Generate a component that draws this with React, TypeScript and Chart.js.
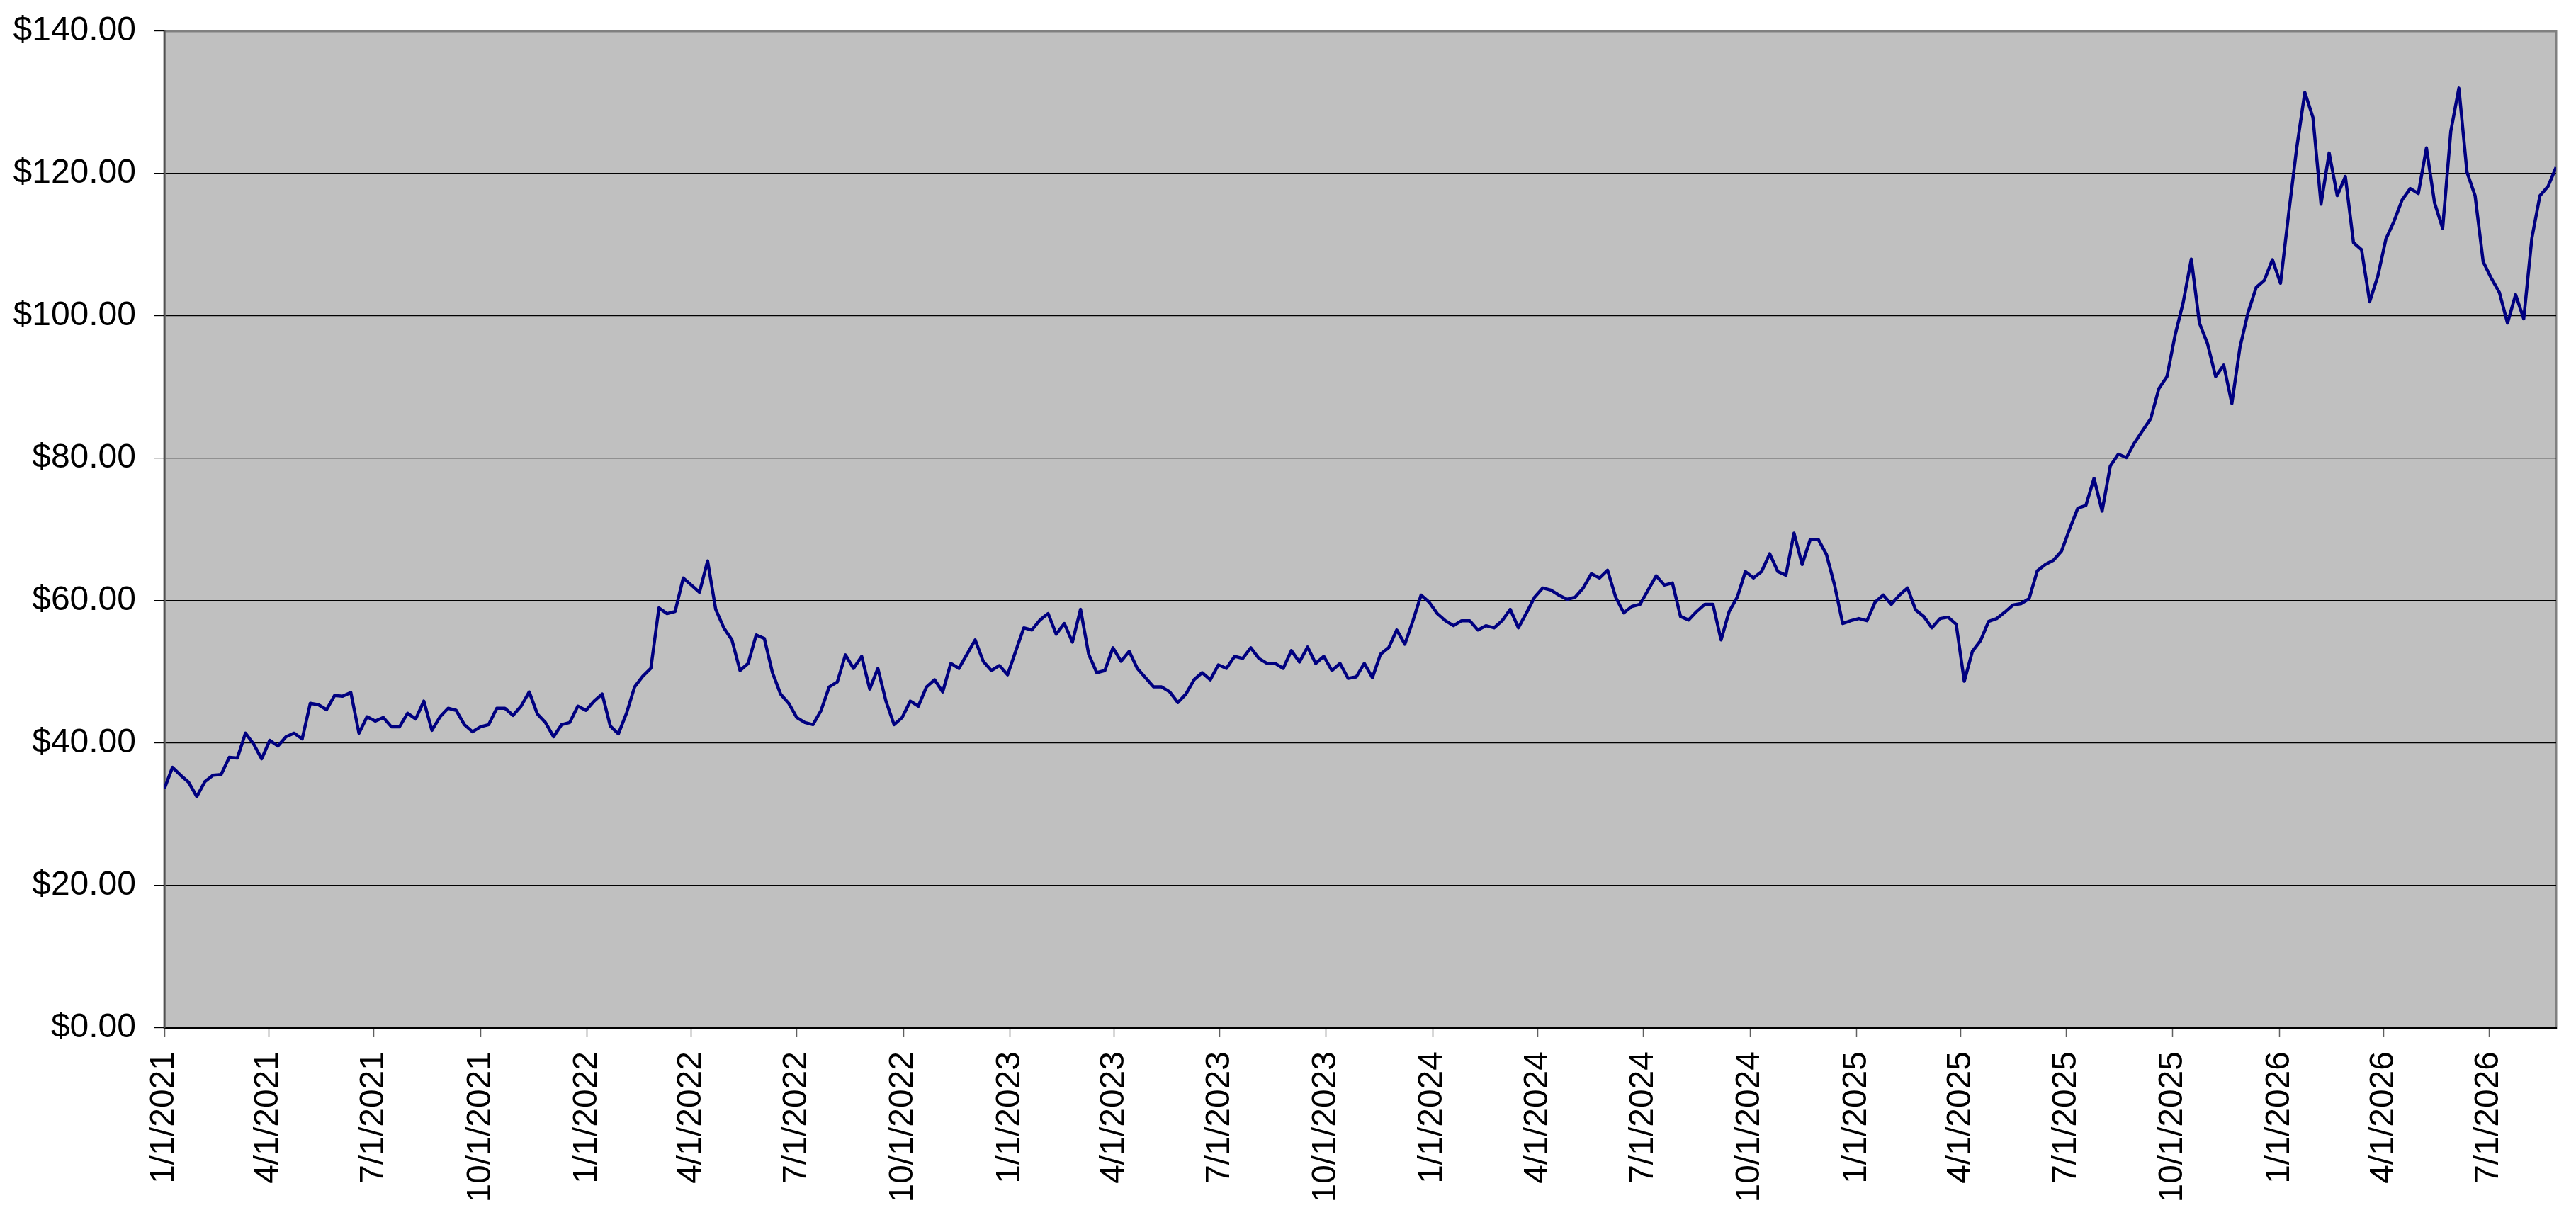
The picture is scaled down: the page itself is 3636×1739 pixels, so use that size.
import { useEffect, useRef } from "react";
import { Chart, registerables } from "chart.js";

Chart.register(...registerables);

// weekly closing prices starting 1/1/2021
const startDate = "1/1/2021";
const stepDays = 7;
const prices = [
  33.6, 36.6, 35.5, 34.5, 32.5, 34.6, 35.5, 35.6, 38.0, 37.9,
  41.4, 39.9, 37.8, 40.4, 39.6, 40.9, 41.4, 40.6, 45.6, 45.4,
  44.7, 46.7, 46.6, 47.1, 41.4, 43.7, 43.1, 43.6, 42.3, 42.3,
  44.2, 43.4, 45.9, 41.8, 43.7, 44.9, 44.6, 42.6, 41.6, 42.3,
  42.6, 44.9, 44.9, 43.9, 45.2, 47.2, 44.1, 42.9, 40.9, 42.6,
  42.9, 45.2, 44.6, 45.9, 46.9, 42.4, 41.3, 44.2, 47.9, 49.4,
  50.5, 59.0, 58.2, 58.5, 63.2, 62.2, 61.2, 65.6, 58.8, 56.2,
  54.5, 50.2, 51.2, 55.2, 54.7, 49.9, 46.9, 45.6, 43.6, 42.9,
  42.6, 44.6, 47.9, 48.6, 52.4, 50.5, 52.2, 47.6, 50.5, 45.9,
  42.6, 43.6, 45.9, 45.2, 47.9, 48.9, 47.2, 51.2, 50.5, 52.5,
  54.5, 51.5, 50.2, 50.9, 49.6, 52.9, 56.2, 55.9, 57.3, 58.2,
  55.3, 56.8, 54.2, 58.8, 52.5, 49.9, 50.2, 53.4, 51.5, 52.9,
  50.5, 49.2, 47.9, 47.9, 47.2, 45.7, 46.9, 48.9, 49.9, 48.9,
  51.0, 50.5, 52.2, 51.9, 53.4, 51.9, 51.2, 51.2, 50.5, 53.0,
  51.4, 53.5, 51.2, 52.2, 50.2, 51.2, 49.1, 49.3, 51.2, 49.2,
  52.5, 53.4, 55.9, 53.9, 57.2, 60.8, 59.8, 58.2, 57.2, 56.5,
  57.2, 57.2, 55.9, 56.5, 56.2, 57.2, 58.8, 56.2, 58.3, 60.5,
  61.8, 61.5, 60.8, 60.2, 60.5, 61.8, 63.8, 63.2, 64.3, 60.5,
  58.3, 59.2, 59.5, 61.5, 63.5, 62.2, 62.5, 57.8, 57.3, 58.5,
  59.5, 59.5, 54.5, 58.5, 60.5, 64.1, 63.2, 64.1, 66.6, 64.1,
  63.6, 69.5, 65.1, 68.6, 68.6, 66.5, 62.2, 56.8, 57.2, 57.5,
  57.2, 59.8, 60.8, 59.5, 60.8, 61.8, 58.7, 57.8, 56.2, 57.5,
  57.7, 56.7, 48.7, 52.9, 54.4, 57.1, 57.5, 58.4, 59.4, 59.6,
  60.3, 64.2, 65.1, 65.7, 67.0, 70.1, 73.0, 73.4, 77.2, 72.6,
  78.9, 80.6, 80.1, 82.2, 83.9, 85.6, 89.8, 91.5, 97.3, 101.9,
  108.0, 99.0, 96.1, 91.5, 93.1, 87.7, 95.6, 100.5, 104.0, 105.0,
  107.9, 104.6, 114.3, 123.6, 131.4, 127.9, 115.7, 122.9, 116.9, 119.6,
  110.3, 109.3, 102.0, 105.6, 110.8, 113.3, 116.3, 117.9, 117.2, 123.6,
  115.9, 112.3, 125.9, 132.0, 120.2, 116.9, 107.6, 105.3, 103.3, 99.0,
  103.0, 99.6, 110.9, 116.9, 118.2, 120.9,
];
const tickLabels = [
  "1/1/2021", "4/1/2021", "7/1/2021", "10/1/2021",
  "1/1/2022", "4/1/2022", "7/1/2022", "10/1/2022",
  "1/1/2023", "4/1/2023", "7/1/2023", "10/1/2023",
  "1/1/2024", "4/1/2024", "7/1/2024", "10/1/2024",
  "1/1/2025", "4/1/2025", "7/1/2025", "10/1/2025",
  "1/1/2026", "4/1/2026", "7/1/2026",
];
const yMin = 0;
const yMax = 140;
const yStep = 20;

function toUtc(s: string) {
  const [m, d, y] = s.split("/").map(Number);
  return Date.UTC(y, m - 1, d);
}

function dayOffset(s: string) {
  return Math.round((toUtc(s) - toUtc(startDate)) / 86400000);
}

const plotArea = {
  id: "plotArea",
  beforeDraw(chart: Chart) {
    const { ctx, chartArea } = chart;
    const { left, top, width, height } = chartArea;
    ctx.save();
    ctx.fillStyle = "#C0C0C0";
    ctx.fillRect(left, top, width, height);
    ctx.strokeStyle = "#808080";
    ctx.lineWidth = 3;
    ctx.strokeRect(left, top, width, height);
    ctx.restore();
  },
};

export default function App() {
  const canvasRef = useRef<HTMLCanvasElement>(null);

  useEffect(() => {
    document.body.style.margin = "0";
    if (!canvasRef.current) return;

    const points = prices.map((v, i) => ({ x: i * stepDays, y: v }));
    const tickDays = tickLabels.map(dayOffset);
    const font = { family: "'Liberation Sans', Arial, sans-serif", size: 48 };

    const chart = new Chart(canvasRef.current, {
      type: "line",
      data: {
        datasets: [
          {
            data: points,
            borderColor: "#000080",
            borderWidth: 4.5,
            pointRadius: 0,
            tension: 0,
            borderJoinStyle: "round",
          },
        ],
      },
      options: {
        animation: false,
        responsive: true,
        maintainAspectRatio: false,
        devicePixelRatio: 1,
        layout: { padding: { top: 44, right: 28, left: 0, bottom: 0 } },
        plugins: {
          legend: { display: false },
          tooltip: { enabled: false },
        },
        scales: {
          x: {
            type: "linear",
            min: 0,
            max: (prices.length - 1) * stepDays,
            afterBuildTicks: (scale: any) => {
              scale.ticks = tickDays.map((v) => ({ value: v }));
            },
            afterFit: (scale: any) => {
              scale.height = 288;
              scale.paddingLeft = 0;
              scale.paddingRight = 0;
            },
            grid: {
              drawOnChartArea: false,
              drawTicks: true,
              tickLength: 13,
              tickColor: "#606060",
              tickWidth: 1.5,
            },
            border: { display: true, color: "#000000", width: 2 },
            ticks: {
              autoSkip: false,
              minRotation: 90,
              maxRotation: 90,
              padding: 20,
              color: "#000000",
              font,
              callback: (_v: any, i: number) => tickLabels[i],
            },
          },
          y: {
            min: yMin,
            max: yMax,
            afterFit: (scale: any) => {
              scale.width = 232;
              scale.paddingTop = 0;
              scale.paddingBottom = 0;
            },
            grid: {
              color: (c: any) => (c.tick && c.tick.value === yMax ? "rgba(0,0,0,0)" : "#000000"),
              lineWidth: 1.2,
              drawTicks: true,
              tickLength: 14,
              tickColor: "#000000",
              tickWidth: 1.2,
            },
            border: { display: true, color: "#505050", width: 2.5 },
            ticks: {
              stepSize: yStep,
              padding: 26,
              color: "#000000",
              font,
              callback: (v: any) => "$" + Number(v).toFixed(2),
            },
          },
        },
      },
      plugins: [plotArea],
    });

    return () => {
      chart.destroy();
    };
  }, []);

  return (
    <div style={{ width: "3636px", height: "1739px", position: "relative", background: "#ffffff" }}>
      <canvas ref={canvasRef}></canvas>
    </div>
  );
}
